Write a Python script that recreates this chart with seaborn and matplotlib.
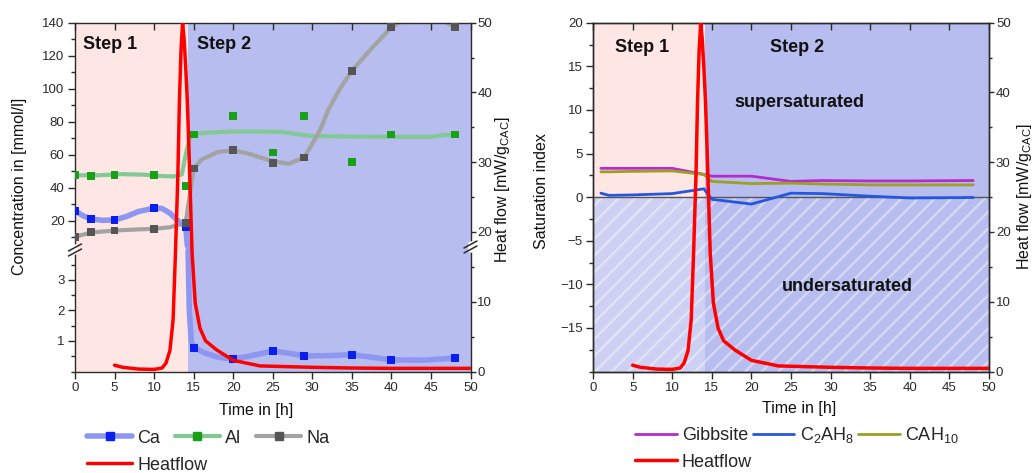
import matplotlib
matplotlib.use("Agg")
import matplotlib.pyplot as plt
import pandas as pd
import seaborn as sns
from matplotlib.lines import Line2D
from matplotlib.ticker import MultipleLocator

# measured ion concentrations in the pore solution [mmol/l]
t_meas = [0, 2, 5, 10, 14, 15, 20, 25, 29, 35, 40, 48]
ca_meas = [26.0, 21.0, 20.4, 27.6, 16.4, 0.78, 0.41, 0.67, 0.51, 0.55, 0.38, 0.44]
al_meas = [47.6, 47.2, 47.8, 47.5, 41.1, 72.2, 83.4, 61.3, 83.4, 55.5, 72.2, 72.2]
na_meas = [10.2, 13.0, 14.0, 15.0, 18.8, 51.6, 62.7, 55.0, 58.3, 110.8, 137.2, 137.2]

# smoothed guide curves
ca_fit_t = [0, 1, 2, 3.5, 5, 6.5, 8, 10, 11, 12, 13, 14, 14.2, 14.3, 14.45, 14.7, 15,
            16.5, 18, 20, 22, 25, 27, 29, 32, 35, 37.5, 40, 44, 48]
ca_fit = [26, 23, 21, 20.2, 20.4, 22.5, 25.5, 27.6, 27.4, 24.5, 20, 16.4, 5, 3.9, 2.0, 1.0, 0.78,
          0.6, 0.47, 0.41, 0.5, 0.67, 0.6, 0.51, 0.52, 0.55, 0.47, 0.38, 0.37, 0.44]
al_fit_t = [0, 3, 6, 9, 11, 12.5, 13.5, 14, 14.5, 15, 17, 20, 23, 26, 28, 30, 35, 40, 45, 46.5, 48]
al_fit = [47.5, 47.5, 48.2, 47.8, 47, 46.8, 48, 60, 70, 72.5, 73.5, 74, 74, 73.8, 72.5, 71.3,
          71, 70.8, 70.8, 71.8, 72.2]
na_fit_t = [0, 2, 5, 8, 10, 12, 13.5, 14, 14.5, 15, 16, 18, 20, 22, 25, 27, 29, 31, 32, 33.5,
            35, 37.7, 40, 42, 45, 47, 48]
na_fit = [10.2, 12.8, 14, 14.7, 15, 16, 18, 18.8, 35, 51.6, 57, 61.5, 62.7, 60.5, 56, 54.5, 58.3,
          75, 87, 100, 110.8, 125.5, 137.2, 143, 145, 140, 137.2]

# calorimetry heat flow [mW/g_CAC]
hf_t = [5, 6, 8, 10, 11, 11.5, 12, 12.4, 12.7, 13.0, 13.2, 13.4, 13.6, 13.8, 14.0, 14.2, 14.4,
        14.6, 14.8, 15.2, 15.8, 16.5, 17.9, 20, 23.4, 25, 30, 35, 40, 45, 50]
hf = [0.9, 0.6, 0.35, 0.3, 0.5, 1.2, 3.0, 7.4, 17, 28, 38.8, 46, 50, 47.5, 43.5, 38.8, 32,
      24.6, 17, 9.8, 6.2, 4.4, 3.1, 1.6, 0.8, 0.75, 0.6, 0.5, 0.45, 0.45, 0.45]

# saturation indices
sat_t = [1, 2, 5, 10, 14, 15, 20, 25, 29, 35, 40, 48]
gibbsite = [3.3, 3.3, 3.3, 3.3, 2.6, 2.4, 2.4, 1.8, 1.9, 1.85, 1.85, 1.9]
c2ah8 = [0.45, 0.2, 0.25, 0.4, 0.95, -0.25, -0.8, 0.45, 0.4, 0.1, -0.1, -0.05]
cah10 = [2.9, 2.9, 2.95, 3.0, 2.6, 1.8, 1.55, 1.6, 1.5, 1.4, 1.4, 1.4]

sns.set_style("white")
plt.rcParams["font.family"] = ["Liberation Sans", "DejaVu Sans"]
plt.rcParams["hatch.linewidth"] = 1.7
plt.rcParams["axes.linewidth"] = 1.0

PINK = "#fde6e3"
BLUE = "#b7bdee"
LAVENDER = "#cdd0f2"
INK = "#2a2a2a"
CA_LINE, CA_PT = "#8d97f2", "#0b1ef0"
AL_LINE, AL_PT = "#82c995", "#18a018"
NA_LINE, NA_PT = "#a3a3a3", "#555555"
RED = "#ff0000"
W, H = 1032, 473

fig = plt.figure(figsize=(W / 100, H / 100), dpi=100)


def px_box(x0, y0, x1, y1):
    return [x0 / W, 1 - y1 / H, (x1 - x0) / W, (y1 - y0) / H]


def style_ticks(ax):
    ax.tick_params(which="both", colors=INK, labelsize=9.5, width=1)
    ax.tick_params(which="major", length=5, pad=2.5)
    ax.tick_params(which="minor", length=3)
    for s in ax.spines.values():
        s.set_color(INK)


def axis_break(xp, yp):
    x, y = xp / W, 1 - yp / H
    dx, dy, gap = 6.5 / W, 3.5 / H, 2.5 / H
    fig.add_artist(Line2D([x, x], [y - gap, y + gap], transform=fig.transFigure, color="white", lw=4))
    for off in (-gap, gap):
        fig.add_artist(Line2D([x - dx, x + dx], [y + off - dy, y + off + dy],
                              transform=fig.transFigure, color=INK, lw=1.1))


# ---------------- left chart: concentrations with broken axis ----------------
meas = pd.DataFrame({"t": t_meas, "Ca": ca_meas, "Al": al_meas, "Na": na_meas})
long = meas.melt(id_vars="t", var_name="ion", value_name="c")
pt_colors = {"Ca": CA_PT, "Al": AL_PT, "Na": NA_PT}
ca_curve = pd.DataFrame({"t": ca_fit_t, "c": ca_fit})

axU = fig.add_axes(px_box(75, 22.7, 470.5, 250))
axL = fig.add_axes(px_box(75, 250, 470.5, 371.5))
axH = fig.add_axes(px_box(75, 22.7, 470.5, 371.5))
axH.patch.set_visible(False)

parts = (
    (axU, long[long.c >= 5], ca_curve[ca_curve.t <= 14.45]),
    (axL, long[long.c < 5], ca_curve[ca_curve.t >= 14.2]),
)
for ax, pts, ca_part in parts:
    ax.axvspan(0, 14.3, color=PINK, lw=0, zorder=0)
    ax.axvspan(14.3, 50, color=BLUE, lw=0, zorder=0)
    if ax is axU:
        sns.lineplot(x=al_fit_t, y=al_fit, ax=ax, color=AL_LINE, lw=3, estimator=None, zorder=2)
        sns.lineplot(x=na_fit_t, y=na_fit, ax=ax, color=NA_LINE, lw=3, estimator=None, zorder=2)
    sns.lineplot(data=ca_part, x="t", y="c", ax=ax, color=CA_LINE, lw=4, estimator=None, zorder=2)
    sns.scatterplot(data=pts, x="t", y="c", hue="ion", palette=pt_colors, marker="s", s=32,
                    linewidth=0, legend=False, ax=ax, zorder=3)
    ax.set_xlim(0, 50)
    ax.set_xlabel("")
    ax.set_ylabel("")
    ax.spines["right"].set_visible(False)
    ax.xaxis.set_major_locator(MultipleLocator(5))
    style_ticks(ax)

axU.set_ylim(2.2, 140)
axU.yaxis.set_major_locator(MultipleLocator(20))
axU.yaxis.set_minor_locator(MultipleLocator(10))
axU.spines["bottom"].set_visible(False)
axU.tick_params(axis="x", which="both", bottom=False, labelbottom=False, top=True, direction="in")
axU.tick_params(axis="y", which="both", left=True, direction="out")

axL.set_ylim(0, 3.98)
axL.set_yticks([1, 2, 3])
axL.yaxis.set_minor_locator(MultipleLocator(0.5))
axL.spines["top"].set_visible(False)
axL.tick_params(axis="x", which="both", bottom=True, direction="out")
axL.tick_params(axis="y", which="both", left=True, direction="out")

sns.lineplot(x=hf_t, y=hf, ax=axH, color=RED, lw=2.5, estimator=None, zorder=4)
axH.set_xlim(0, 50)
axH.set_ylim(0, 50)
axH.set_xlabel("")
axH.set_ylabel("")
axH.yaxis.tick_right()
axH.yaxis.set_major_locator(MultipleLocator(10))
axH.yaxis.set_minor_locator(MultipleLocator(5))
for s in ("left", "top", "bottom"):
    axH.spines[s].set_visible(False)
style_ticks(axH)
axH.tick_params(axis="x", which="both", bottom=False, labelbottom=False)
axH.tick_params(axis="y", which="both", right=True, left=False, direction="out", pad=1.5)
axH.tick_params(axis="y", which="major", length=3.5)
axH.tick_params(axis="y", which="minor", length=2.5)

axU.text(1.0, 127, "Step 1", fontsize=13, weight="bold", va="center", color="#111")
axU.text(15.4, 127, "Step 2", fontsize=13, weight="bold", va="center", color="#111")

axis_break(75, 250)
axis_break(470.5, 247)

fig.text(20 / W, 1 - 186 / H, "Concentration in [mmol/l]", rotation=90, ha="center", va="center",
         fontsize=11.5, color="#111")
fig.text(502 / W, 1 - 190 / H, "Heat flow [mW/g$_\\mathregular{CAC}$]", rotation=90, ha="center",
         va="center", fontsize=11.5, color="#111")
fig.text(256 / W, 1 - 410 / H, "Time in [h]", ha="center", va="center", fontsize=11.5, color="#111")

# ---------------- right chart: saturation indices ----------------
axS = fig.add_axes(px_box(593, 22.7, 989, 371.5))
axS.axvspan(0, 14.1, ymin=0.5, ymax=1, color=PINK, lw=0, zorder=0)
axS.axvspan(0, 14.1, ymin=0, ymax=0.5, color=LAVENDER, lw=0, zorder=0)
axS.axvspan(14.1, 50, color=BLUE, lw=0, zorder=0)
axS.axhspan(-20, 0, facecolor="none", edgecolor=(1, 1, 1, 0.42), hatch="//", lw=0, zorder=0.5)
axS.axhline(0, color="#555555", lw=1, zorder=1)
sns.lineplot(x=sat_t, y=gibbsite, ax=axS, color="#b42ccc", lw=2, estimator=None, zorder=2)
sns.lineplot(x=sat_t, y=cah10, ax=axS, color="#9e9e22", lw=2, estimator=None, zorder=2)
sns.lineplot(x=sat_t, y=c2ah8, ax=axS, color="#2457e0", lw=2, estimator=None, zorder=2)
axS.set_xlim(0, 50)
axS.set_ylim(-20, 20)
axS.set_xlabel("")
axS.set_ylabel("")
axS.xaxis.set_major_locator(MultipleLocator(5))
axS.set_yticks([-15, -10, -5, 0, 5, 10, 15, 20])
axS.yaxis.set_minor_locator(MultipleLocator(2.5))
style_ticks(axS)
axS.tick_params(axis="x", which="major", bottom=True, top=True, direction="out")
axS.tick_params(axis="x", which="minor", bottom=False, top=False)
axS.tick_params(axis="y", which="both", left=True, direction="out")
# top ticks point inward, as in the left chart
for t in axS.xaxis.get_major_ticks():
    t.tick2line.set_marker(3)

axS.text(2.8, 17.1, "Step 1", fontsize=13, weight="bold", va="center", color="#111")
axS.text(22.3, 17.1, "Step 2", fontsize=13, weight="bold", va="center", color="#111")
axS.text(17.9, 10.8, "supersaturated", fontsize=13, weight="bold", va="center", color="#111")
axS.text(23.8, -10.2, "undersaturated", fontsize=13, weight="bold", va="center", color="#111")

axS2 = axS.twinx()
sns.lineplot(x=hf_t, y=hf, ax=axS2, color=RED, lw=2.5, estimator=None, zorder=4)
axS2.set_ylim(0, 50)
axS2.set_xlim(0, 50)
axS2.set_ylabel("")
axS2.yaxis.set_major_locator(MultipleLocator(10))
axS2.yaxis.set_minor_locator(MultipleLocator(5))
style_ticks(axS2)
axS2.tick_params(axis="y", which="both", right=True, direction="out", pad=1.5)
axS2.tick_params(axis="y", which="major", length=3.5)
axS2.tick_params(axis="y", which="minor", length=2.5)

fig.text(541 / W, 1 - 191 / H, "Saturation index", rotation=90, ha="center", va="center",
         fontsize=11.5, color="#111")
fig.text(1024 / W, 1 - 197 / H, "Heat flow [mW/g$_\\mathregular{CAC}$]", rotation=90, ha="center",
         va="center", fontsize=11.5, color="#111")
fig.text(799 / W, 1 - 408 / H, "Time in [h]", ha="center", va="center", fontsize=11.5, color="#111")

# ---------------- legends ----------------
leg_kw = dict(loc="center left", frameon=False, fontsize=13, handletextpad=0.3,
              borderpad=0, borderaxespad=0)
ca_h = Line2D([], [], color=CA_LINE, lw=4, marker="s", ms=6, mfc=CA_PT, mec=CA_PT)
al_h = Line2D([], [], color=AL_LINE, lw=3, marker="s", ms=6, mfc=AL_PT, mec=AL_PT)
na_h = Line2D([], [], color=NA_LINE, lw=3, marker="s", ms=6, mfc=NA_PT, mec=NA_PT)
hf_h = Line2D([], [], color=RED, lw=2.5)
fig.legend([ca_h, al_h, na_h], ["Ca", "Al", "Na"], ncol=3, handlelength=2.5, columnspacing=0.8,
           bbox_to_anchor=(87 / W, 1 - 438 / H), **leg_kw)
fig.legend([hf_h], ["Heatflow"], handlelength=2.5, bbox_to_anchor=(87 / W, 1 - 465 / H), **leg_kw)

gb_h = Line2D([], [], color="#b42ccc", lw=2)
c2_h = Line2D([], [], color="#2457e0", lw=2)
c10_h = Line2D([], [], color="#9e9e22", lw=2)
fig.legend([gb_h, c2_h, c10_h], ["Gibbsite", "C$_\\mathregular{2}$AH$_\\mathregular{8}$",
                                 "CAH$_\\mathregular{10}$"], ncol=3, handlelength=2.3,
           columnspacing=0.25, bbox_to_anchor=(635 / W, 1 - 435 / H), **leg_kw)
fig.legend([hf_h], ["Heatflow"], handlelength=2.3, bbox_to_anchor=(635 / W, 1 - 462 / H), **leg_kw)

fig.savefig("out.png", dpi=100)
